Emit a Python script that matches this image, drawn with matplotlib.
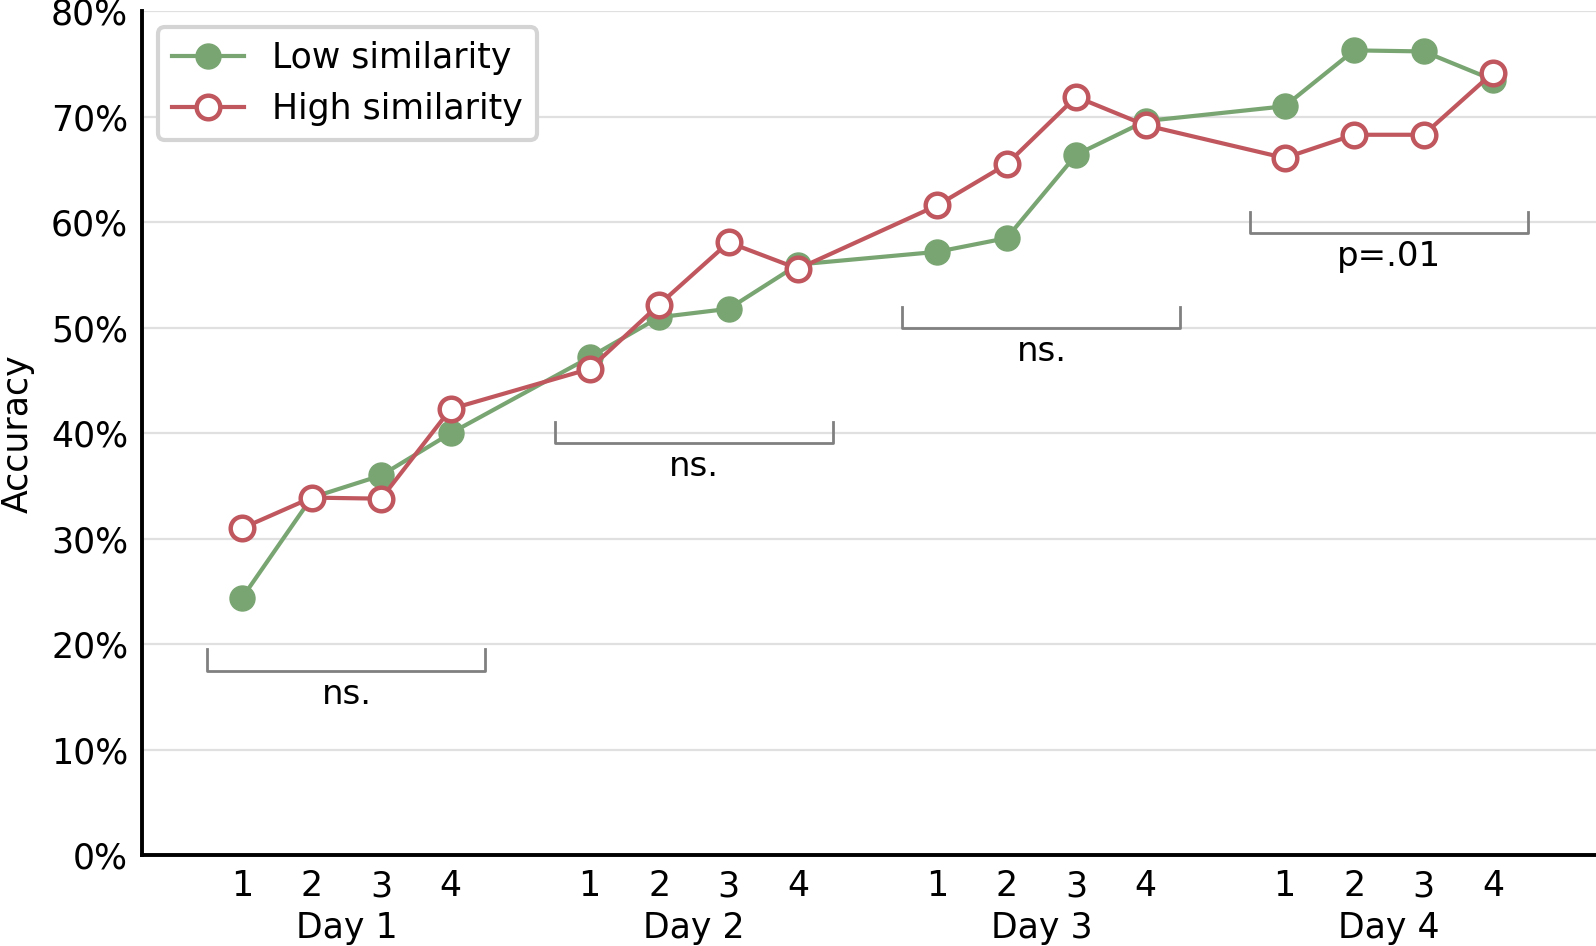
import numpy as np
import matplotlib.pyplot as plt
from matplotlib.ticker import PercentFormatter

days = ['Day 1', 'Day 2', 'Day 3', 'Day 4']
sessions = ['1', '2', '3', '4']

low_sim = [24.4, 33.9, 36.0, 40.0,
           47.2, 51.0, 51.8, 56.0,
           57.2, 58.5, 66.4, 69.6,
           71.0, 76.3, 76.2, 73.5]
high_sim = [31.0, 33.9, 33.8, 42.3,
            46.1, 52.2, 58.1, 55.6,
            61.6, 65.5, 71.9, 69.2,
            66.1, 68.3, 68.3, 74.2]

# significance brackets per day: bracket height (%) and label
bracket_y = [17.5, 39.1, 50.0, 59.0]
bracket_txt = ['ns.', 'ns.', 'ns.', 'p=.01']

green = '#79a572'
red = '#c0575e'

# x positions: 4 sessions per day, one empty slot between days
x = np.array([d * 5 + s + 1 for d in range(4) for s in range(4)])
centers = [d * 5 + 2.5 for d in range(4)]

fig = plt.figure(figsize=(15.96, 9.46), dpi=100)
ax = fig.add_axes([0.089, 0.096, 0.911, 0.892])

ax.plot(x, low_sim, '-o', color=green, lw=3, ms=18,
        label='Low similarity', zorder=3)
ax.plot(x, high_sim, '-o', color=red, lw=3, ms=17, mfc='white',
        mec=red, mew=3.2, label='High similarity', zorder=4)

for c, by, t in zip(centers, bracket_y, bracket_txt):
    ax.plot([c - 2, c - 2, c + 2, c + 2], [by + 2, by, by, by + 2],
            color='#808080', lw=2, zorder=2)
    ax.annotate(t, xy=(c, by), xytext=(0, -5), textcoords='offset points',
                ha='center', va='top', fontsize=24.5)

ax.set_xlim(-0.44, 20.48)
ax.set_ylim(0, 80)
ax.set_yticks(np.arange(0, 81, 10))
ax.yaxis.set_major_formatter(PercentFormatter(decimals=0))
ax.set_xticks(x)
ax.set_xticklabels(sessions * 4)
ax.tick_params(axis='both', length=0, labelsize=25)
ax.tick_params(axis='x', pad=10)
ax.tick_params(axis='y', pad=10)

for c, d in zip(centers, days):
    ax.annotate(d, xy=(c, 0), xycoords=('data', 'axes fraction'),
                xytext=(0, -40), textcoords='offset points',
                ha='center', va='top', fontsize=25)

ax.set_ylabel('Accuracy', fontsize=25)
ax.yaxis.set_label_coords(-0.074, 0.5)

ax.grid(axis='y', color='#e0e0e0', lw=1.6, zorder=0)
ax.set_axisbelow(True)
for s in ['top', 'right']:
    ax.spines[s].set_visible(False)
for s in ['left', 'bottom']:
    ax.spines[s].set_linewidth(2.8)
    ax.spines[s].set_color('black')

leg = ax.legend(loc='upper left', fontsize=25, numpoints=1,
                handlelength=2.1, fancybox=True, framealpha=1,
                borderaxespad=0.45)
leg.get_frame().set_edgecolor('#d4d4d4')
leg.get_frame().set_linewidth(3)

fig.savefig('out.png', dpi=100)
